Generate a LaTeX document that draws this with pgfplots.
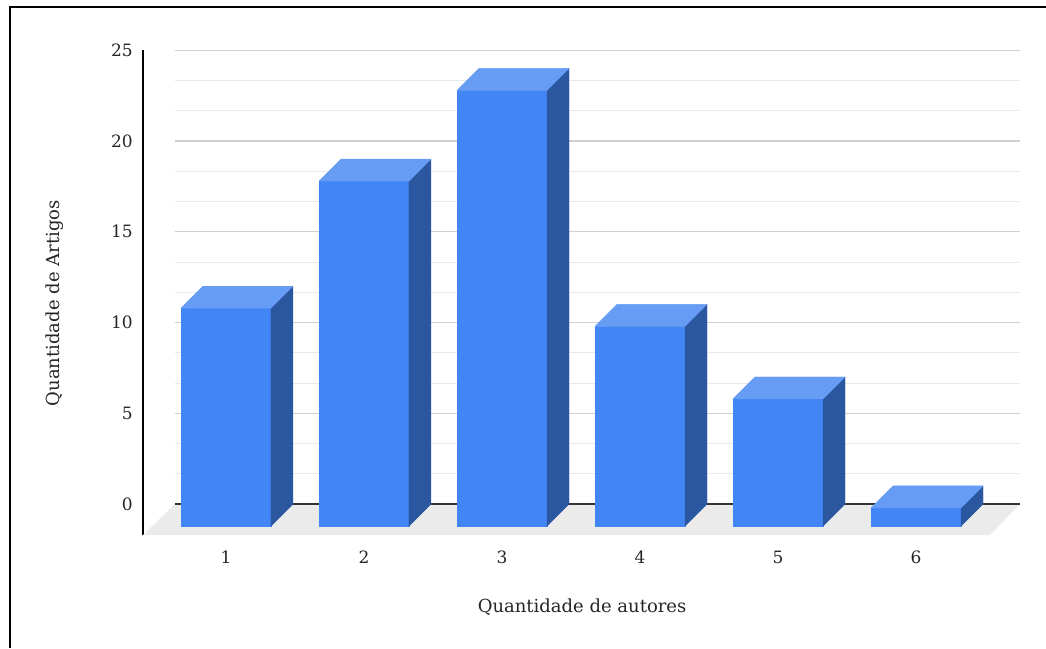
\documentclass[border=0pt]{standalone}
\usepackage{pgfplots}
\usepackage{pgfplotstable}
\pgfplotsset{compat=1.18}
\usepackage{fontspec}
\setmainfont{DejaVu Serif}
\definecolor{barfront}{HTML}{4285F4}
\definecolor{barside}{HTML}{2B57A1}
\definecolor{bartop}{HTML}{679CF5}
\definecolor{floorc}{HTML}{EBEBEB}
\definecolor{majgrid}{HTML}{D0D0D0}
\definecolor{mingrid}{HTML}{E8E8E8}
\pgfdeclareplotmark{emptymark}{}
\pgfplotstableread{
x y
1 12
2 19
3 24
4 11
5 7
6 1
}\datatable
\begin{document}
\begin{tikzpicture}[x=1pt,y=1pt]
\useasboundingbox (0,0) rectangle (1046,648);
\draw[line width=1.2pt] (10,0) -- (10,641) -- (1046,641);
\begin{axis}[
  at={(143pt,113pt)}, anchor=south west,
  x=138pt, y=18.15pt,
  xmin=0.3986, xmax=6.754, ymin=-1.707, ymax=25,
  axis x line=bottom, axis y line=left,
  x axis line style={draw=none},
  y axis line style={-, black, line width=1.2pt},
  xtick={1,...,6}, ytick={0,5,...,25},
  major tick length=0pt,
  /pgf/number format/assume math mode=true,
  yticklabel style={anchor=east, inner sep=0pt, xshift=-10pt, font=\fontsize{17}{20}\selectfont, text=black!85},
  xticklabel style={anchor=center, inner sep=0pt, yshift=-22pt, font=\fontsize{17}{20}\selectfont, text=black!85},
  xlabel={Quantidade de autores}, ylabel={Quantidade de Artigos},
  every axis x label/.style={at={(rel axis cs:0.5006,-0.1485)}, anchor=center, font=\fontsize{18}{21}\selectfont, text=black!85},
  every axis y label/.style={at={(rel axis cs:-0.1003,0.478)}, rotate=90, anchor=center, font=\fontsize{18}{21}\selectfont, text=black!85},
  clip=false,
]
\fill[floorc] (axis cs:0.3986,-1.707) -- (axis cs:6.536,-1.707) -- (axis cs:6.754,0) -- (axis cs:0.6304,0) -- cycle;
\pgfplotsinvokeforeach{1,2,4,5,7,8,10,11,13,14}{
  \draw[mingrid, line width=1pt] (axis cs:0.6304,{#1*5/3}) -- (axis cs:6.754,{#1*5/3});
}
\pgfplotsinvokeforeach{5,10,15,20,25}{
  \draw[majgrid, line width=1.2pt] (axis cs:0.6304,#1) -- (axis cs:6.754,#1);
}
\draw[black!80, line width=1.2pt] (axis cs:0.6304,0) -- (axis cs:6.754,0);
\addplot[
  scatter, only marks, mark=emptymark,
  visualization depends on={rawy \as \barval},
  scatter/@pre marker code/.code={%
    \pgfmathsetlengthmacro\barbot{-22pt-\barval*18.15pt}%
    \pgfmathsetlengthmacro\barsidebot{-\barval*18.15pt}%
    \fill[barfront] (-45pt,-22pt) rectangle (45pt,\barbot);
    \fill[barside] (45pt,-22pt) -- (67pt,0pt) -- (67pt,\barsidebot) -- (45pt,\barbot) -- cycle;
    \fill[bartop] (-45pt,-22pt) -- (-23pt,0pt) -- (67pt,0pt) -- (45pt,-22pt) -- cycle;
  },
  scatter/@post marker code/.code={},
] table[x=x,y=y] {\datatable};
\end{axis}
\end{tikzpicture}
\end{document}
